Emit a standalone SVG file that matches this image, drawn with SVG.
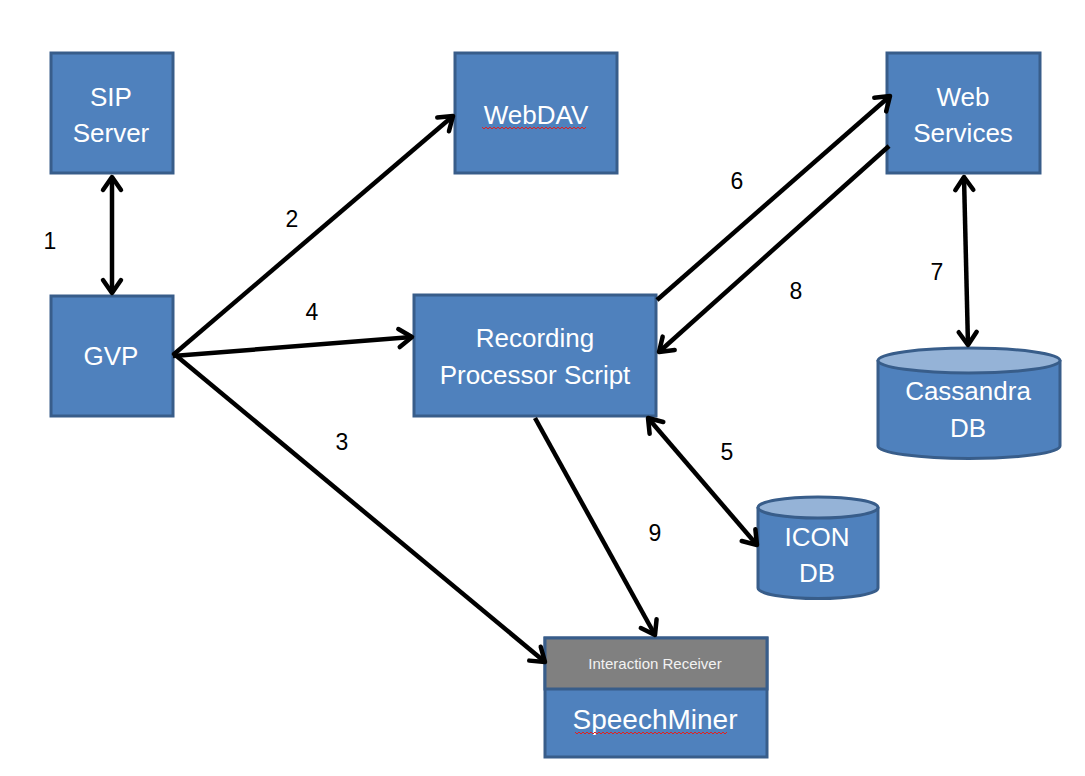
<svg xmlns="http://www.w3.org/2000/svg" width="1085" height="776" viewBox="0 0 1085 776">
<style>
.box{fill:#4F81BD;stroke:#385D8A;stroke-width:3}
.top{fill:#95B3D7;stroke:#385D8A;stroke-width:3}
.gray{fill:#808080;stroke:#385D8A;stroke-width:3}
.t{font-family:"Liberation Sans",Arial,sans-serif;font-size:26px;fill:#FFFFFF;text-anchor:middle}
.s{font-family:"Liberation Sans",Arial,sans-serif;font-size:15px;fill:#F2F2F2;text-anchor:middle}
.n{font-family:"Liberation Sans",Arial,sans-serif;font-size:23px;fill:#000000;text-anchor:middle}
.c{stroke:#000;stroke-width:4.5;fill:none}
.sq{stroke:#E02020;stroke-width:1;fill:none}
</style>
<defs>
<marker id="ah" markerUnits="userSpaceOnUse" markerWidth="30" markerHeight="30" refX="16" refY="15" orient="auto-start-reverse" overflow="visible">
<path d="M3,6 L16,15 L3,24" fill="none" stroke="#000" stroke-width="4.5" stroke-linecap="round" stroke-linejoin="round"/>
</marker>
</defs>
<rect width="1085" height="776" fill="#FFFFFF"/>
<g id="sip"><rect class="box" x="51" y="53" width="122" height="120"/><text class="t" x="111" y="106">SIP</text><text class="t" x="111" y="142">Server</text></g>
<g id="webdav"><rect class="box" x="455" y="53" width="162" height="120"/><text class="t" x="536" y="124">WebDAV</text><path class="sq" d="M482,127 l2,2 l2,-2 l2,2 l2,-2 l2,2 l2,-2 l2,2 l2,-2 l2,2 l2,-2 l2,2 l2,-2 l2,2 l2,-2 l2,2 l2,-2 l2,2 l2,-2 l2,2 l2,-2 l2,2 l2,-2 l2,2 l2,-2 l2,2 l2,-2 l2,2 l2,-2 l2,2 l2,-2 l2,2 l2,-2 l2,2 l2,-2 l2,2 l2,-2 l2,2 l2,-2 l2,2 l2,-2 l2,2 l2,-2 l2,2 l2,-2 l2,2 l2,-2 l2,2 l2,-2 l2,2 l2,-2 l2,2 l2,-2"/></g>
<g id="websvc"><rect class="box" x="887" y="53" width="153" height="120"/><text class="t" x="963" y="106">Web</text><text class="t" x="963" y="142">Services</text></g>
<g id="gvp"><rect class="box" x="51" y="296" width="122" height="120"/><text class="t" x="111" y="365">GVP</text></g>
<g id="rps"><rect class="box" x="414" y="295" width="242" height="121"/><text class="t" x="535" y="347">Recording</text><text class="t" x="535" y="384">Processor Script</text></g>
<g id="cassandra"><path class="box" d="M878,360 L878,446 A91,12.5 0 0 0 1060,446 L1060,360"/><ellipse class="top" cx="969" cy="360.5" rx="91" ry="12.5"/><text class="t" x="968" y="400">Cassandra</text><text class="t" x="968" y="437">DB</text></g>
<g id="icondb"><path class="box" d="M758,507 L758,588 A60,10.5 0 0 0 878,588 L878,507"/><ellipse class="top" cx="818" cy="507.5" rx="60" ry="10.5"/><text class="t" x="817" y="546">ICON</text><text class="t" x="817" y="582">DB</text></g>
<g id="speechminer"><rect class="box" x="545" y="638" width="222" height="119"/><rect class="gray" x="545" y="638" width="222" height="51"/><text class="s" x="655" y="669">Interaction Receiver</text><text class="t" x="655" y="729" style="font-size:28px">SpeechMiner</text><path class="sq" d="M575,732 l2,2 l2,-2 l2,2 l2,-2 l2,2 l2,-2 l2,2 l2,-2 l2,2 l2,-2 l2,2 l2,-2 l2,2 l2,-2 l2,2 l2,-2 l2,2 l2,-2 l2,2 l2,-2 l2,2 l2,-2 l2,2 l2,-2 l2,2 l2,-2 l2,2 l2,-2 l2,2 l2,-2 l2,2 l2,-2 l2,2 l2,-2 l2,2 l2,-2 l2,2 l2,-2 l2,2 l2,-2 l2,2 l2,-2 l2,2 l2,-2 l2,2 l2,-2 l2,2 l2,-2 l2,2 l2,-2 l2,2 l2,-2 l2,2 l2,-2 l2,2 l2,-2 l2,2 l2,-2 l2,2 l2,-2 l2,2 l2,-2 l2,2 l2,-2 l2,2 l2,-2 l2,2 l2,-2 l2,2 l2,-2 l2,2 l2,-2 l2,2 l2,-2 l2,2 l2,-2"/></g>
<g id="connectors">
<line class="c" x1="112" y1="177" x2="112" y2="293" marker-start="url(#ah)" marker-end="url(#ah)"/>
<line class="c" x1="173" y1="355" x2="453" y2="116" marker-end="url(#ah)"/>
<line class="c" x1="173" y1="353" x2="545" y2="662" marker-end="url(#ah)"/>
<line class="c" x1="173" y1="356" x2="412" y2="337" marker-end="url(#ah)"/>
<line class="c" x1="648" y1="418" x2="757" y2="545" marker-start="url(#ah)" marker-end="url(#ah)"/>
<line class="c" x1="657" y1="300" x2="890" y2="96" marker-end="url(#ah)"/>
<line class="c" x1="889" y1="146" x2="659" y2="352" marker-end="url(#ah)"/>
<line class="c" x1="964" y1="177" x2="968" y2="345" marker-start="url(#ah)" marker-end="url(#ah)"/>
<line class="c" x1="535" y1="418" x2="655" y2="635" marker-end="url(#ah)"/>
</g>
<g id="labels">
<text class="n" x="50" y="249">1</text>
<text class="n" x="292" y="227">2</text>
<text class="n" x="342" y="450">3</text>
<text class="n" x="312" y="320">4</text>
<text class="n" x="727" y="460">5</text>
<text class="n" x="737" y="189">6</text>
<text class="n" x="937" y="280">7</text>
<text class="n" x="796" y="299">8</text>
<text class="n" x="655" y="541">9</text>
</g>
</svg>
